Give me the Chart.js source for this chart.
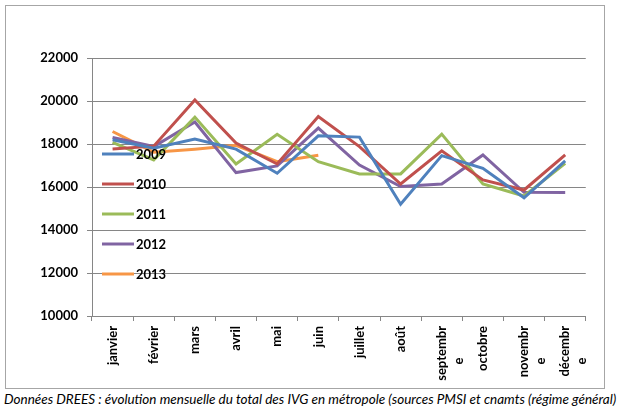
<!DOCTYPE html>
<html>
<head>
<meta charset="utf-8">
<script src="https://cdn.jsdelivr.net/npm/chart.js@4"></script>
<style>
  body { margin: 0; background: #fff; width: 626px; height: 412px; overflow: hidden; }
  #frame { position: absolute; left: 5px; top: 5px; width: 598px; height: 382px; border: 1px solid #a6a6a6; }
  #caption { position: absolute; left: 4px; top: 391px; font: italic 13.5px Lato, sans-serif; white-space: nowrap; color: #000; }
</style>
</head>
<body>
<div id="frame"><canvas id="c" width="598" height="382"></canvas></div>
<div id="caption">Données DREES : évolution mensuelle du total des IVG en métropole (sources PMSI et cnamts (régime général)</div>
<script>
// month labels; the long ones wrap like in the sheet, with the lone "e" centred under the first line
const pad = '\u00a0'.repeat(10);
const months = ['janvier', 'février', 'mars', 'avril', 'mai', 'juin', 'juillet', 'août',
  ['septembr', 'e' + pad], 'octobre', ['novembr', 'e' + pad], ['décembr', 'e' + pad]];
const years = ['2009', '2010', '2011', '2012', '2013'];
const yTicks = [10000, 12000, 14000, 16000, 18000, 20000, 22000];

const v2009 = [18200, 17800, 18230, 17760, 16640, 18380, 18320, 15200, 17460, 16870, 15500, 17210];
const v2010 = [17770, 17900, 20050, 18040, 17070, 19280, 17880, 16140, 17680, 16330, 15860, 17490];
const v2011 = [18080, 17260, 19250, 17070, 18450, 17180, 16610, 16610, 18460, 16140, 15580, 17100];
const v2012 = [18300, 17880, 19020, 16670, 16980, 18740, 17020, 16020, 16140, 17490, 15750, 15740];
const v2013 = [18580, 17620, 17760, 17940, 17180, 17480, null, null, null, null, null, null];

const colors = ['#4f81bd', '#c0504d', '#9bbb59', '#8064a2', '#f79646'];
const series = [v2009, v2010, v2011, v2012, v2013];

const boldFont = { family: 'Lato, sans-serif', size: 13, weight: 'bold', lineHeight: 1.3 };

// legend sits inside the plot, drawn over the lines
const inlineLegend = {
  id: 'inlineLegend',
  afterDatasetsDraw(chart) {
    const ctx = chart.ctx;
    ctx.save();
    ctx.font = 'bold 13px Lato, sans-serif';
    ctx.textBaseline = 'middle';
    chart.data.datasets.forEach((ds, i) => {
      const y = 148 + i * 30;
      ctx.strokeStyle = ds.borderColor;
      ctx.lineWidth = 3;
      ctx.beginPath();
      ctx.moveTo(96, y);
      ctx.lineTo(128, y);
      ctx.stroke();
      ctx.fillStyle = '#000';
      ctx.fillText(ds.label, 130, y + 1);
    });
    ctx.restore();
  }
};

new Chart(document.getElementById('c'), {
  type: 'line',
  data: {
    labels: months,
    datasets: years.map((y, i) => ({
      label: y,
      data: series[i],
      borderColor: colors[i],
      backgroundColor: colors[i],
      borderWidth: 3,
      pointRadius: 0,
      tension: 0,
      spanGaps: false
    }))
  },
  options: {
    responsive: false,
    animation: false,
    layout: { padding: { top: 52, right: 0, left: 0, bottom: 0 } },
    plugins: { legend: { display: false }, tooltip: { enabled: false } },
    scales: {
      x: {
        offset: true,
        grid: { offset: true, drawOnChartArea: false, color: '#868686', tickLength: 5 },
        border: { color: '#868686' },
        ticks: { color: '#000', font: boldFont, minRotation: 90, maxRotation: 90, autoSkip: false, padding: 5 },
        afterFit: s => { s.height = 72; }
      },
      y: {
        min: yTicks[0],
        max: yTicks[yTicks.length - 1],
        grid: { color: '#868686', tickLength: 5 },
        border: { color: '#868686' },
        ticks: { stepSize: 2000, color: '#000', font: boldFont, padding: 9, callback: v => String(v) },
        afterFit: s => { s.width = 86; }
      }
    }
  },
  plugins: [inlineLegend]
});
</script>
</body>
</html>
